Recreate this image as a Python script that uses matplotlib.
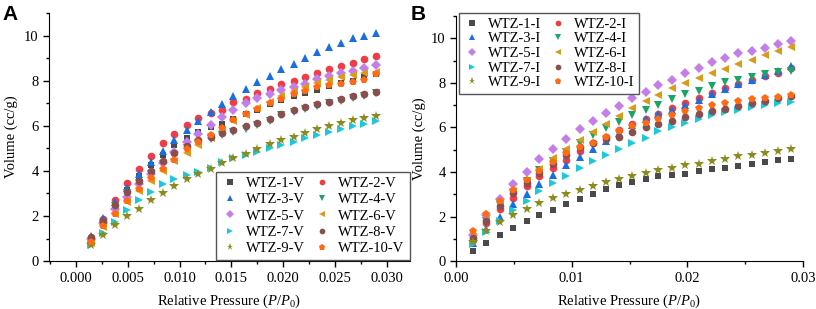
import matplotlib
matplotlib.use('Agg')
import matplotlib.pyplot as plt
from matplotlib.ticker import MultipleLocator

plt.rcParams['font.family'] = ['Liberation Serif', 'DejaVu Serif']
plt.rcParams['mathtext.fontset'] = 'custom'
plt.rcParams['mathtext.it'] = 'Liberation Serif:italic'
plt.rcParams['mathtext.rm'] = 'Liberation Serif'

# relative pressure points (same for both panels)
pressure = [0.0015, 0.0026, 0.0038, 0.0049, 0.0061, 0.0072, 0.0084, 0.0095, 0.0107,
            0.0118, 0.0130, 0.0141, 0.0152, 0.0164, 0.0175, 0.0187, 0.0198, 0.0210,
            0.0221, 0.0233, 0.0244, 0.0256, 0.0267, 0.0278, 0.0290]

# panel A (V series)
a1 = [1.00, 1.75, 2.50, 3.15, 3.78, 4.25, 4.72, 5.15, 5.45, 5.72, 5.95, 6.10, 6.30,
      6.50, 6.70, 6.95, 7.15, 7.30, 7.45, 7.60, 7.75, 7.88, 8.00, 8.15, 8.28]
a2 = [1.00, 1.85, 2.70, 3.45, 4.08, 4.68, 5.23, 5.62, 6.05, 6.35, 6.55, 6.72, 7.05,
      7.20, 7.45, 7.65, 7.85, 8.00, 8.18, 8.33, 8.50, 8.65, 8.80, 8.95, 9.10]
a3 = [1.10, 1.90, 2.62, 3.25, 3.85, 4.38, 4.90, 5.35, 5.80, 6.20, 6.60, 6.95, 7.30,
      7.65, 7.95, 8.22, 8.50, 8.75, 9.00, 9.25, 9.47, 9.68, 9.87, 10.00, 10.13]
a4 = [0.90, 1.70, 2.45, 3.00, 3.45, 3.85, 4.30, 4.70, 5.00, 5.25, 5.42, 5.60, 5.72,
      5.85, 6.05, 6.20, 6.48, 6.62, 6.75, 6.88, 7.00, 7.10, 7.22, 7.33, 7.45]
a5 = [1.00, 1.70, 2.30, 2.85, 3.40, 3.88, 4.35, 4.85, 5.30, 5.62, 6.05, 6.40, 6.72,
      7.00, 7.25, 7.42, 7.58, 7.72, 7.85, 8.08, 8.20, 8.33, 8.42, 8.55, 8.70]
a6 = [0.80, 1.50, 2.10, 2.60, 3.10, 3.55, 4.00, 4.42, 4.80, 5.15, 5.45, 5.82, 6.20,
      6.48, 6.80, 7.05, 7.30, 7.55, 7.70, 7.90, 8.05, 8.18, 8.25, 8.32, 8.40]
a7 = [0.70, 1.25, 1.75, 2.25, 2.70, 3.08, 3.40, 3.65, 3.82, 3.95, 4.12, 4.38, 4.55,
      4.72, 4.85, 5.00, 5.15, 5.30, 5.45, 5.58, 5.72, 5.85, 5.98, 6.10, 6.20]
a8 = [1.05, 1.80, 2.50, 3.05, 3.55, 3.98, 4.42, 4.80, 5.10, 5.35, 5.52, 5.68, 5.80,
      6.00, 6.12, 6.30, 6.52, 6.68, 6.82, 6.95, 7.05, 7.20, 7.30, 7.40, 7.50]
a9 = [0.70, 1.15, 1.60, 2.00, 2.33, 2.72, 3.02, 3.35, 3.62, 3.88, 4.10, 4.35, 4.55,
      4.75, 4.95, 5.18, 5.35, 5.52, 5.68, 5.85, 6.00, 6.12, 6.25, 6.35, 6.45]
a10 = [0.85, 1.55, 2.10, 2.65, 3.20, 3.70, 4.10, 4.50, 4.95, 5.30, 5.60, 5.90, 6.25,
       6.50, 6.75, 7.00, 7.20, 7.40, 7.55, 7.70, 7.80, 7.85, 7.95, 8.05, 8.30]

# panel B (I series)
b1 = [0.45, 0.80, 1.17, 1.47, 1.78, 2.05, 2.30, 2.57, 2.80, 3.03, 3.23, 3.40, 3.53,
      3.68, 3.80, 3.85, 3.90, 4.05, 4.15, 4.20, 4.25, 4.37, 4.45, 4.52, 4.60]
b2 = [0.95, 1.70, 2.32, 2.85, 3.37, 3.83, 4.20, 4.55, 4.95, 5.30, 5.55, 5.88, 6.15,
      6.40, 6.62, 6.88, 7.10, 7.30, 7.55, 7.75, 7.95, 8.12, 8.30, 8.45, 8.65]
b3 = [0.80, 1.45, 2.00, 2.55, 3.02, 3.48, 3.88, 4.30, 4.68, 5.05, 5.40, 5.75, 6.10,
      6.40, 6.60, 6.80, 7.02, 7.25, 7.48, 7.72, 7.93, 8.15, 8.35, 8.55, 8.75]
b4 = [1.05, 1.80, 2.50, 3.05, 3.60, 4.10, 4.50, 4.90, 5.30, 5.65, 5.98, 6.25, 6.55,
      6.80, 7.02, 7.28, 7.50, 7.65, 7.85, 8.02, 8.15, 8.28, 8.40, 8.50, 8.55]
b5 = [1.15, 2.08, 2.80, 3.45, 4.02, 4.58, 5.03, 5.50, 5.92, 6.28, 6.65, 6.98, 7.30,
      7.60, 7.90, 8.15, 8.45, 8.68, 8.92, 9.13, 9.32, 9.45, 9.58, 9.73, 9.90]
b6 = [1.10, 1.85, 2.60, 3.15, 3.60, 4.15, 4.62, 5.05, 5.45, 5.80, 6.15, 6.52, 6.88,
      7.20, 7.45, 7.75, 7.98, 8.20, 8.43, 8.62, 8.85, 9.05, 9.25, 9.42, 9.60]
b7 = [0.75, 1.30, 1.82, 2.28, 2.72, 3.13, 3.50, 3.83, 4.17, 4.50, 4.78, 5.05, 5.28,
      5.52, 5.82, 6.02, 6.22, 6.38, 6.55, 6.68, 6.80, 6.92, 7.02, 7.08, 7.15]
b8 = [1.05, 1.80, 2.48, 3.05, 3.50, 3.95, 4.35, 4.75, 5.10, 5.32, 5.50, 5.55, 5.80,
      6.00, 6.15, 6.30, 6.45, 6.60, 6.72, 6.85, 6.98, 7.08, 7.20, 7.32, 7.42]
b9 = [0.85, 1.35, 1.75, 2.07, 2.35, 2.62, 2.82, 3.03, 3.20, 3.38, 3.55, 3.68, 3.83,
      3.97, 4.08, 4.18, 4.30, 4.38, 4.50, 4.60, 4.70, 4.77, 4.85, 4.95, 5.02]
b10 = [1.35, 2.10, 2.68, 3.20, 3.65, 4.05, 4.45, 4.85, 5.10, 5.30, 5.55, 5.82, 6.05,
       6.22, 6.40, 6.58, 6.75, 6.88, 7.00, 7.10, 7.20, 7.28, 7.33, 7.38, 7.45]

kolors = ['#4a4a4a', '#f03c44', '#1a6fe0', '#1aa468', '#c47ee8',
          '#dc9a1a', '#1ec8dc', '#8a4e4e', '#8c8c1e', '#ff6a12']
markers = ['s', 'o', '^', 'v', 'D', '<', '>', 'o', '*', 'p']
msizes = [5, 5.5, 5.5, 5.5, 5, 5.5, 5.5, 5.5, 7, 6]

series_a = [a1, a2, a3, a4, a5, a6, a7, a8, a9, a10]
series_b = [b1, b2, b3, b4, b5, b6, b7, b8, b9, b10]

fig = plt.figure(figsize=(8.16, 3.09), dpi=100)
axA = fig.add_axes([0.060, 0.155, 0.442, 0.803])
axB = fig.add_axes([0.559, 0.155, 0.425, 0.793])


def rita(ax, serier, suffix):
    for i, y in enumerate(serier):
        ax.plot(pressure, y, linestyle='none', marker=markers[i], color=kolors[i],
                markersize=msizes[i], markeredgewidth=0,
                label='WTZ-%d-%s' % (i + 1, suffix))
    ax.set_ylim(0, 11)
    ax.yaxis.set_major_locator(MultipleLocator(2))
    ax.yaxis.set_minor_locator(MultipleLocator(1))
    ax.tick_params(which='both', direction='out', labelsize=10.5, width=1)
    ax.tick_params(which='major', length=4)
    ax.tick_params(which='minor', length=2.5)
    ax.spines['top'].set_visible(False)
    ax.spines['right'].set_visible(False)
    ax.set_xlabel('Relative Pressure ($P$/$P_0$)', fontsize=10.5, labelpad=6)
    ax.set_ylabel('Volume (cc/g)', fontsize=10.5, labelpad=4)


def radvis(ax):
    # legend filled row by row: 1 2 / 3 4 / ...
    h, l = ax.get_legend_handles_labels()
    ordning = [0, 2, 4, 6, 8, 1, 3, 5, 7, 9]
    return [h[k] for k in ordning], [l[k] for k in ordning]


rita(axA, series_a, 'V')
axA.set_xlim(-0.0026, 0.0322)
axA.xaxis.set_major_locator(MultipleLocator(0.005))
axA.xaxis.set_minor_locator(MultipleLocator(0.0025))
axA.xaxis.set_major_formatter(plt.FuncFormatter(lambda v, p: '%.3f' % v))
hA, lA = radvis(axA)
axA.legend(hA, lA, ncol=2, loc='lower right', bbox_to_anchor=(1.0, 0.005), fontsize=10.5,
           frameon=True, fancybox=False, edgecolor='#555555', framealpha=1,
           labelspacing=0.2, handletextpad=0.55, columnspacing=0.5,
           handlelength=1.2, borderpad=0.35, borderaxespad=0, markerscale=0.75)

rita(axB, series_b, 'I')
axB.set_xlim(0, 0.03)
axB.xaxis.set_major_locator(MultipleLocator(0.01))
axB.xaxis.set_minor_locator(MultipleLocator(0.005))
axB.xaxis.set_major_formatter(plt.FuncFormatter(lambda v, p: '%.2f' % v))
hB, lB = radvis(axB)
axB.legend(hB, lB, ncol=2, loc='upper left', bbox_to_anchor=(0.009, 1.012), fontsize=10.5,
           frameon=True, fancybox=False, edgecolor='#555555', framealpha=1,
           labelspacing=0.1, handletextpad=0.5, columnspacing=0.5,
           handlelength=1.2, borderpad=0.3, borderaxespad=0, markerscale=0.75)

fig.text(0.003, 0.985, 'A', fontsize=15, fontweight='bold', family='Liberation Sans',
         va='top', ha='left')
fig.text(0.503, 0.985, 'B', fontsize=15, fontweight='bold', family='Liberation Sans',
         va='top', ha='left')

fig.savefig('out.png', dpi=100)
